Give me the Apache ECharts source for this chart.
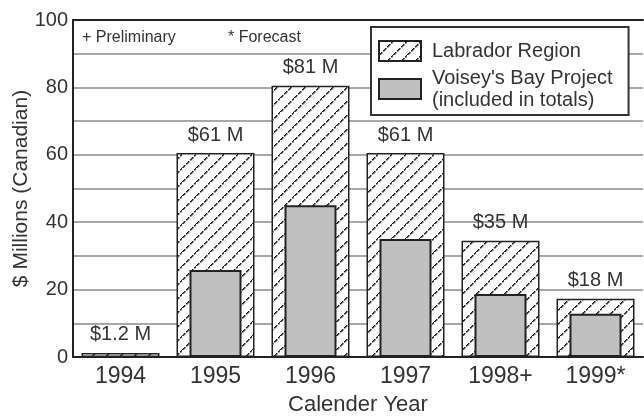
<!DOCTYPE html>
<html>
<head>
<meta charset="utf-8">
<script src="https://cdn.jsdelivr.net/npm/echarts@6/dist/echarts.min.js"></script>
<style>
  html, body { margin: 0; padding: 0; background: #fff; }
  #main { width: 644px; height: 418px; }
</style>
</head>
<body>
<div id="main"></div>
<script>
// data
const years = ['1994', '1995', '1996', '1997', '1998+', '1999*'];
const labradorTotals = [1.2, 60.5, 80.5, 60.5, 34.5, 17.3];
const voiseysBay = [null, 25.8, 45, 35, 18.7, 12.8];
const totalLabels = ['$1.2 M', '$61 M', '$81 M', '$61 M', '$35 M', '$18 M'];
const yTicks = [0, 20, 40, 60, 80, 100];

const FONT = "'Liberation Sans', Arial, sans-serif";
const INK = '#333';

// diagonal dashed hatch for the Labrador bars
const makeHatch = () => {
  const n = 14;
  const c = document.createElement('canvas');
  c.width = n; c.height = n;
  const ctx = c.getContext('2d');
  ctx.fillStyle = '#fff';
  ctx.fillRect(0, 0, n, n);
  ctx.fillStyle = '#1a1a1a';
  for (let i = 0; i < n; i++) {
    if (i % 4 === 3) continue; // small gaps -> dashed look
    ctx.fillRect(i, n - 1 - i, 1.5, 1.5);
  }
  return c;
};
const hatch = { image: makeHatch(), repeat: 'repeat' };

const chart = echarts.init(document.getElementById('main'));

const option = {
  backgroundColor: '#fff',
  animation: false,
  textStyle: { fontFamily: FONT, color: INK },
  title: [
    { text: '+ Preliminary', left: 82, top: 30, padding: 0, textStyle: { fontFamily: FONT, fontSize: 16, fontWeight: 'normal', color: INK } },
    { text: '* Forecast', left: 228, top: 30, padding: 0, textStyle: { fontFamily: FONT, fontSize: 16, fontWeight: 'normal', color: INK } }
  ],
  legend: {
    orient: 'vertical',
    left: 371,
    top: 27,
    padding: [13, 16, 4, 7],
    itemGap: 5,
    itemWidth: 42,
    itemHeight: 20,
    backgroundColor: '#fff',
    borderColor: '#333',
    borderWidth: 2,
    borderRadius: 0,
    textStyle: { fontFamily: FONT, fontSize: 20, color: INK, lineHeight: 22, padding: [0, 0, 0, 6] },
    data: [
      { name: 'Labrador Region', icon: 'rect' },
      { name: "Voisey's Bay Project\n(included in totals)", icon: 'rect' }
    ]
  },
  grid: { left: 73, right: 1, top: 20, bottom: 61, outerBoundsMode: 'none', containLabel: false },
  xAxis: [
    {
      type: 'category',
      data: years,
      position: 'bottom',
      axisLine: { lineStyle: { color: '#222', width: 2 } },
      axisTick: { show: false },
      axisLabel: { fontFamily: FONT, fontSize: 23, color: INK, margin: 8 },
      name: 'Calender Year',
      nameLocation: 'middle',
      nameGap: 37,
      nameMoveOverlap: false,
      nameTextStyle: { fontFamily: FONT, fontSize: 22, color: INK }
    },
    {
      type: 'category',
      data: years,
      position: 'top',
      axisLine: { lineStyle: { color: '#222', width: 2 } },
      axisTick: { show: false },
      axisLabel: { show: false }
    }
  ],
  yAxis: {
    type: 'value',
    min: 0,
    max: 100,
    interval: 10,
    axisLine: { show: true, lineStyle: { color: '#222', width: 2 } },
    axisTick: { show: false },
    splitLine: { lineStyle: { color: '#8a8a8a', width: 1.5 } },
    axisLabel: {
      fontFamily: FONT, fontSize: 20, color: INK, margin: 5,
      formatter: v => (yTicks.indexOf(v) >= 0 ? String(v) : '')
    },
    name: '$ Millions (Canadian)',
    nameLocation: 'middle',
    nameGap: 41,
    nameMoveOverlap: false,
    nameTextStyle: { fontFamily: FONT, fontSize: 21, color: INK }
  },
  series: [
    {
      name: 'Labrador Region',
      type: 'bar',
      xAxisIndex: 0,
      barWidth: 78,
      data: labradorTotals,
      itemStyle: { color: hatch, borderColor: '#222', borderWidth: 1.5 },
      label: {
        show: true,
        position: 'top',
        distance: 8,
        fontFamily: FONT,
        fontSize: 20,
        color: INK,
        formatter: p => totalLabels[p.dataIndex]
      },
      z: 2
    },
    {
      name: "Voisey's Bay Project\n(included in totals)",
      type: 'bar',
      xAxisIndex: 1,
      barWidth: 52,
      data: voiseysBay,
      itemStyle: { color: '#c0c0c0', borderColor: '#222', borderWidth: 2 },
      z: 3
    }
  ]
};

chart.setOption(option);
</script>
</body>
</html>
